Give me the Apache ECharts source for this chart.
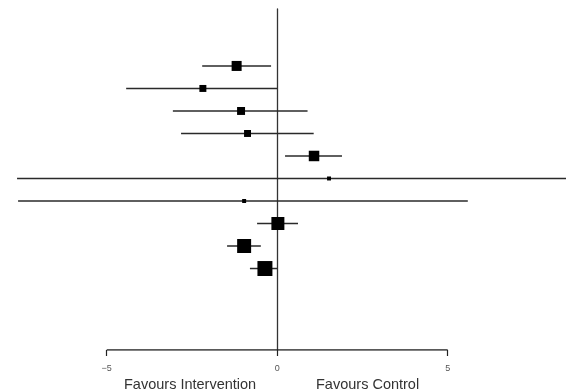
<!DOCTYPE html>
<html>
<head>
<meta charset="utf-8">
<script src="https://cdn.jsdelivr.net/npm/echarts@6/dist/echarts.min.js"></script>
<style>html,body{margin:0;padding:0;background:#fff}#c{width:566px;height:392px}</style>
</head>
<body>
<div id="c"></div>
<script>
// Forest plot data (one entry per study row, top to bottom)
const rows = [1, 2, 3, 4, 5, 6, 7, 8, 9, 10];
const estimates = [-1.19, -2.18, -1.06, -0.87, 1.08, 1.52, -0.97, 0.02, -0.97, -0.36];
const lowerCI = [-2.2, -4.43, -3.06, -2.82, 0.23, -7.63, -7.6, -0.59, -1.47, -0.8];
const upperCI = [-0.18, 0.0, 0.89, 1.07, 1.9, 9.5, 5.59, 0.61, -0.48, 0.0];
const weights = [10.1, 4.9, 6.4, 4.9, 11.1, 1.6, 1.6, 17.0, 19.7, 22.6];
const tickValues = [-5, 0, 5];
const leftLabel = 'Favours Intervention';
const rightLabel = 'Favours Control';

const ciData = rows.map((r, i) => [lowerCI[i], upperCI[i], r]);
const pointData = rows.map((r, i) => [estimates[i], r, weights[i]]);

const chart = echarts.init(document.getElementById('c'), null, {renderer: 'canvas'});
chart.setOption({
  animation: false,
  backgroundColor: '#fff',
  grid: {left: 0, right: 0, top: 9, bottom: 42, containLabel: false},
  xAxis: {
    type: 'value', min: -8.13, max: 8.47,
    splitLine: {show: false},
    axisLine: {show: false, onZero: false},
    axisTick: {show: true, customValues: tickValues, length: 6, lineStyle: {color: '#222', width: 1.2}},
    axisLabel: {show: true, customValues: tickValues, margin: 14, fontSize: 9,
      fontFamily: 'Liberation Sans, Arial, sans-serif', color: '#555',
      formatter: v => String(v).replace('-', '\u2212')}
  },
  yAxis: {
    type: 'value', inverse: true, min: -1.53, max: 13.62,
    splitLine: {show: false},
    axisLabel: {show: false}, axisTick: {show: false},
    axisLine: {show: true, onZero: true, lineStyle: {color: '#333', width: 1.3}}
  },
  series: [
    {
      type: 'line', data: [[tickValues[0], 13.62], [tickValues[tickValues.length - 1], 13.62]],
      symbol: 'none', silent: true, lineStyle: {color: '#222', width: 1.3}
    },
    {
      type: 'custom', clip: true, data: ciData,
      renderItem: (params, api) => {
        const a = api.coord([api.value(0), api.value(2)]);
        const b = api.coord([api.value(1), api.value(2)]);
        return {type: 'line', shape: {x1: a[0], y1: a[1], x2: b[0], y2: b[1]},
          style: {stroke: '#2a2a2a', lineWidth: 1.5}};
      }
    },
    {
      type: 'scatter', data: pointData, symbol: 'rect',
      symbolSize: d => 3.15 * Math.sqrt(d[2]),
      itemStyle: {color: '#000', opacity: 1}
    }
  ],
  graphic: [
    {type: 'text', left: 124, top: 377, style: {text: leftLabel, fontSize: 14.5,
      fontFamily: 'Liberation Sans, Arial, sans-serif', fill: '#333'}},
    {type: 'text', left: 316, top: 377, style: {text: rightLabel, fontSize: 14.5,
      fontFamily: 'Liberation Sans, Arial, sans-serif', fill: '#333'}}
  ]
});
</script>
</body>
</html>
